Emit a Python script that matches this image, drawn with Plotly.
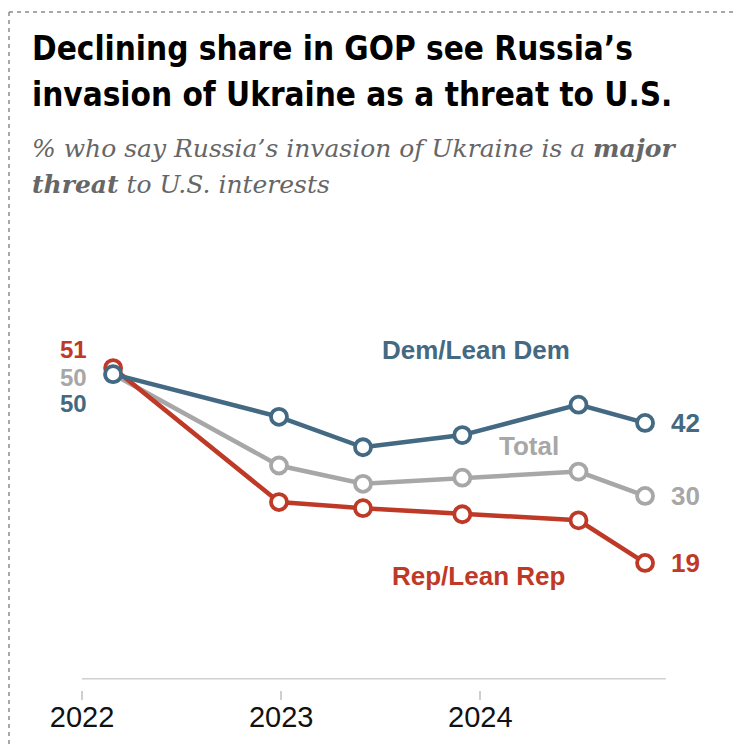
import plotly.graph_objects as go
import pandas as pd

# ---- data ----
dates = ["2022-02-27", "2022-12-28", "2023-05-31", "2023-11-29", "2024-06-29", "2024-10-29"]
dem = [50, 43, 38, 40, 45, 42]
total = [50, 35, 32, 33, 34, 30]
rep = [51, 29, 28, 27, 26, 19]
tick_vals = ["2022-01-01", "2023-01-01", "2024-01-01"]
tick_text = ["2022", "2023", "2024"]

DEM_C = "#436983"
REP_C = "#BF3927"
TOT_C = "#A7A7A7"

W, H = 744, 747
OFF = 8  # page body margin
L, R, T, B = 32, 48, 292, 65
PW, PH = W - L - R, H - T - B

def px(xs):
    return (xs - OFF - L) / PW

def py(ys):
    return (H - B - (ys - OFF)) / PH

x_start = pd.Timestamp("2021-10-16")
x_end = pd.Timestamp("2025-02-14")

fig = go.Figure()

def add_series(vals, color, name):
    fig.add_trace(go.Scatter(
        x=dates, y=vals, mode="lines+markers", name=name,
        line=dict(color=color, width=4.5),
        marker=dict(size=16, color="white", line=dict(color=color, width=3.8)),
        cliponaxis=False, hoverinfo="skip"))

add_series(total, TOT_C, "Total")
add_series(rep, REP_C, "Rep/Lean Rep")
add_series(dem, DEM_C, "Dem/Lean Dem")

lab_font = "Liberation Sans, Arial, sans-serif"
LS = 26
LL = 24
ann = []
# left labels
ann.append(dict(x=dates[0], y=rep[0], text=f"<b>{rep[0]}</b>", xanchor="right", yanchor="middle",
                xshift=-24, yshift=19, font=dict(color=REP_C, size=LL, family=lab_font), showarrow=False))
ann.append(dict(x=dates[0], y=total[0], text=f"<b>{total[0]}</b>", xanchor="right", yanchor="middle",
                xshift=-24, yshift=-3, font=dict(color=TOT_C, size=LL, family=lab_font), showarrow=False))
ann.append(dict(x=dates[0], y=dem[0], text=f"<b>{dem[0]}</b>", xanchor="right", yanchor="middle",
                xshift=-24, yshift=-29, font=dict(color=DEM_C, size=LL, family=lab_font), showarrow=False))
# right labels
for vals, c in [(dem, DEM_C), (total, TOT_C), (rep, REP_C)]:
    ann.append(dict(x=dates[-1], y=vals[-1], text=f"<b>{vals[-1]}</b>", xanchor="left", yanchor="middle",
                    xshift=24, font=dict(color=c, size=LS, family=lab_font), showarrow=False))
# series names
ann.append(dict(x="2023-12-25", y=54, text="<b>Dem/Lean Dem</b>", xanchor="center", yanchor="middle",
                font=dict(color=DEM_C, size=LS, family=lab_font), showarrow=False))
ann.append(dict(x="2024-03-31", y=38.2, text="<b>Total</b>", xanchor="center", yanchor="middle",
                font=dict(color=TOT_C, size=LS, family=lab_font), showarrow=False))
ann.append(dict(x="2023-12-28", y=16.9, text="<b>Rep/Lean Rep</b>", xanchor="center", yanchor="middle",
                font=dict(color=REP_C, size=LS, family=lab_font), showarrow=False))

# title & subtitle
title_font = dict(family="DejaVu Sans Condensed, Liberation Sans, Arial, sans-serif", size=33, color="#000000")
ann.append(dict(xref="paper", yref="paper", x=px(30), y=py(48), xanchor="left", yanchor="middle",
                align="left", showarrow=False,
                text="<b>Declining share in GOP see Russia’s</b>", font=title_font))
ann.append(dict(xref="paper", yref="paper", x=px(30), y=py(94), xanchor="left", yanchor="middle",
                align="left", showarrow=False,
                text="<b>invasion of Ukraine as a threat to U.S.</b>", font=title_font))
sub_font = dict(family="DejaVu Serif, Georgia, serif", size=25, color="#666666")
ann.append(dict(xref="paper", yref="paper", x=px(30), y=py(148), xanchor="left", yanchor="middle",
                align="left", showarrow=False,
                text="<i>% who say Russia’s invasion of Ukraine is a <b>major</b></i>", font=sub_font))
ann.append(dict(xref="paper", yref="paper", x=px(30), y=py(185), xanchor="left", yanchor="middle",
                align="left", showarrow=False,
                text="<i><b>threat</b> to U.S. interests</i>", font=sub_font))

shapes = [
    # baseline axis line
    dict(type="line", xref="x", yref="y", x0="2022-01-01", x1="2024-12-06", y0=0, y1=0,
         line=dict(color="#CFCFCF", width=1.5), layer="below"),
    # dashed frame
    dict(type="line", xref="paper", yref="paper", x0=px(9), x1=px(760), y0=py(12), y1=py(12),
         line=dict(color="#8C8C8C", width=1.5, dash="4px,4px")),
    dict(type="line", xref="paper", yref="paper", x0=px(9), x1=px(9), y0=py(12), y1=py(770),
         line=dict(color="#8C8C8C", width=1.5, dash="4px,4px")),
]

fig.update_layout(
    width=W, height=H, margin=dict(l=L, r=R, t=T, b=B),
    paper_bgcolor="white", plot_bgcolor="white", showlegend=False,
    annotations=ann, shapes=shapes,
    xaxis=dict(range=[x_start, x_end], type="date", showgrid=False, zeroline=False, showline=False,
               tickvals=tick_vals, ticktext=tick_text, ticks="outside", ticklen=9, tickwidth=1.5,
               tickcolor="#CFCFCF", tickfont=dict(family=lab_font, size=29, color="#111111"),
               ticklabelstandoff=-8),
    yaxis=dict(range=[-1.86, 62.18], visible=False, showgrid=False, zeroline=False),
)

fig.write_html("out.html")
